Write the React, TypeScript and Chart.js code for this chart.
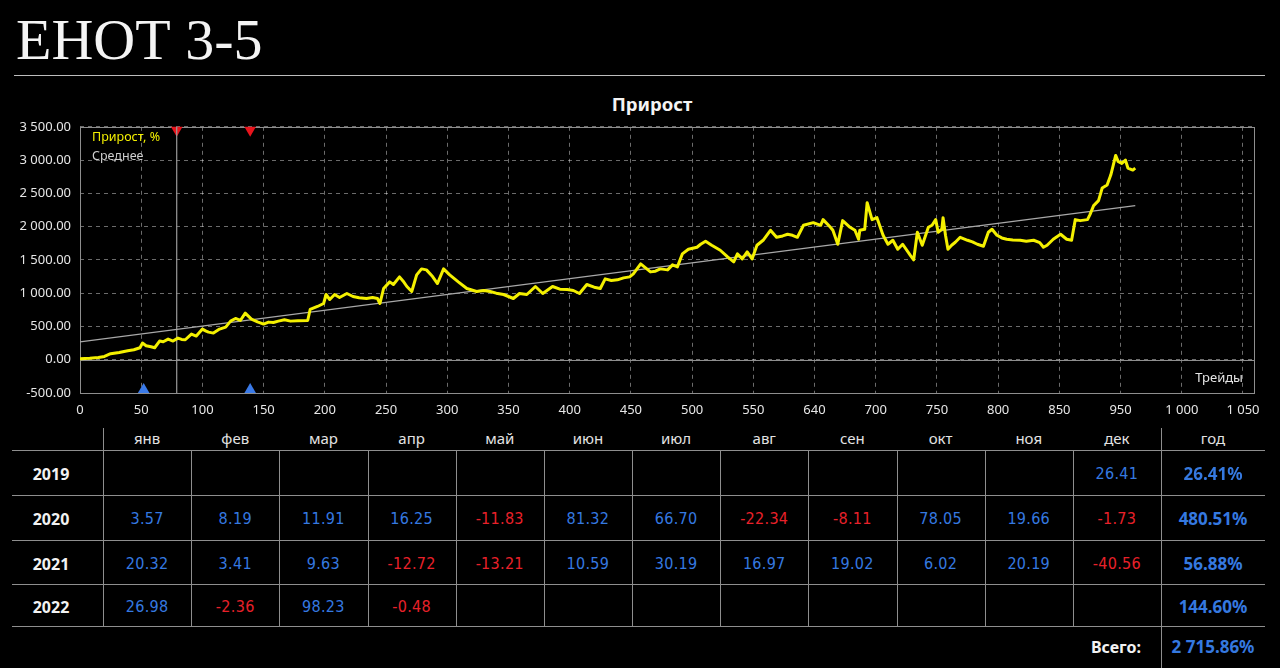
import React, { useEffect, useRef } from "react";
import { Chart, registerables } from "chart.js";

Chart.register(...registerables);

// ---- chart data ----
const tradeX = [
  0, 8, 15, 20, 25, 32, 39, 44, 49, 51, 54, 58, 61, 65, 68, 72, 76, 80, 83, 86, 91, 95, 100, 103, 105, 109, 114, 119,
  123, 127, 131, 135, 140, 145, 150, 154, 158, 162, 167, 172, 178, 186, 188, 194, 199, 201, 204, 208, 212, 218, 223,
  228, 234, 239, 243, 245, 248, 253, 256, 261, 264, 267, 271, 275, 279, 283, 288, 292, 297, 302, 309, 316, 324, 330,
  335, 340, 346, 354, 359, 365, 372, 378, 386, 392, 398, 403, 408, 414, 420, 425, 429, 434, 439, 444, 449, 452, 458,
  466, 470, 474, 480, 484, 488, 492, 497, 504, 507, 511, 516, 523, 529, 534, 537, 541, 545, 549, 553, 558, 564, 569,
  574, 578, 582, 586, 591, 599, 605, 607, 613, 615, 619, 623, 629, 633, 636, 637, 641, 643, 647, 651, 656, 660, 664,
  668, 672, 678, 681, 684, 688, 693, 696, 699, 701, 704, 705, 707, 709, 712, 715, 719, 725, 729, 733, 738, 742, 745,
  749, 753, 757, 762, 768, 773, 779, 784, 787, 790, 795, 801, 806, 810, 813, 817, 823, 825, 828, 832, 835, 839, 842,
  844, 846, 848, 851, 854, 856, 860, 862,
];
const growthPct = [
  15, 22, 35, 50, 90, 110, 135, 150, 180, 250, 210, 195, 180, 280, 270, 310, 280, 325, 305, 300, 385, 355, 460, 430,
  415, 400, 460, 490, 580, 620, 590, 700, 610, 570, 535, 565, 560, 580, 600, 580, 585, 590, 755, 800, 845, 980, 905,
  980, 935, 995, 950, 930, 920, 935, 920, 845, 1070, 1170, 1130, 1245, 1180, 1100, 1025, 1275, 1365, 1350, 1250, 1145,
  1365, 1275, 1170, 1070, 1025, 1040, 1025, 1000, 980, 920, 995, 980, 1100, 995, 1100, 1060, 1055, 1040, 995, 1130,
  1090, 1070, 1215, 1190, 1200, 1230, 1245, 1290, 1440, 1320, 1330, 1365, 1350, 1425, 1395, 1590, 1660, 1690, 1735,
  1780, 1720, 1645, 1545, 1470, 1590, 1515, 1620, 1515, 1720, 1795, 1945, 1840, 1860, 1885, 1870, 1840, 2020, 2060,
  2020, 2105, 1990, 1945, 1735, 2090, 1990, 1945, 1810, 1945, 1960, 2360, 2105, 2135, 1870, 1735, 1795, 1660, 1735,
  1575, 1500, 1915, 1720, 1990, 2020, 2105, 1915, 1960, 2135, 1870, 1660, 1720, 1765, 1840, 1795, 1770, 1735, 1705,
  1915, 1960, 1870, 1830, 1810, 1800, 1795, 1780, 1795, 1760, 1690, 1720, 1810, 1885, 1810, 1795, 2105, 2090, 2105,
  2180, 2315, 2390, 2580, 2625, 2775, 2920, 3070, 2980, 2950, 3000, 2880, 2850, 2880,
];
const meanX = [0, 862];
const meanPct = [267, 2315];
const cursorX = [79, 79];
const cursorY = [-500, 3500];
const sellMarkX = [79, 139];
const buyMarkX = [52, 139];
const xTickLabels = [
  "0", "50", "100", "150", "200", "250", "300", "350", "400", "450", "500", "550", "640", "700", "750", "800",
  "850", "950", "1 000", "1 050",
];
const yTickLabels = [
  "-500.00", "0.00", "500.00", "1 000.00", "1 500.00", "2 000.00", "2 500.00", "3 000.00", "3 500.00",
];

// ---- table data ----
const months = ["янв", "фев", "мар", "апр", "май", "июн", "июл", "авг", "сен", "окт", "ноя", "дек"];
const years = ["2019", "2020", "2021", "2022"];
const m2019: (number | null)[] = [null, null, null, null, null, null, null, null, null, null, null, 26.41];
const m2020: (number | null)[] = [3.57, 8.19, 11.91, 16.25, -11.83, 81.32, 66.7, -22.34, -8.11, 78.05, 19.66, -1.73];
const m2021: (number | null)[] = [20.32, 3.41, 9.63, -12.72, -13.21, 10.59, 30.19, 16.97, 19.02, 6.02, 20.19, -40.56];
const m2022: (number | null)[] = [26.98, -2.36, 98.23, -0.48, null, null, null, null, null, null, null, null];
const yearTotals = [26.41, 480.51, 56.88, 144.6];
const totalLabel = "Всего:";
const totalValue = "2 715.86%";

const BLUE = "#3579e0";
const RED = "#e8212a";
const GRID = "rgba(255,255,255,0.42)";
const LINEC = "#8e8e8e";

const frame = {
  id: "frame",
  beforeDatasetsDraw(chart: any) {
    const { ctx, chartArea: a, scales } = chart;
    ctx.save();
    ctx.strokeStyle = LINEC;
    ctx.lineWidth = 1;
    ctx.setLineDash([]);
    const y0 = Math.round(scales.y.getPixelForValue(0)) + 0.5;
    ctx.beginPath();
    ctx.moveTo(a.left, y0);
    ctx.lineTo(a.right, y0);
    ctx.stroke();
    ctx.strokeRect(Math.round(a.left) + 0.5, Math.round(a.top) + 0.5, Math.round(a.right - a.left), Math.round(a.bottom - a.top));
    ctx.restore();
  },
};

function ChartBlock() {
  const ref = useRef<HTMLCanvasElement>(null);
  useEffect(() => {
    const pts = (xs: number[], ys: number[]) => xs.map((x, i) => ({ x, y: ys[i] }));
    const chart = new Chart(ref.current!, {
      type: "line",
      data: {
        datasets: [
          {
            data: pts(tradeX, growthPct),
            borderColor: "#f4f000",
            borderWidth: 3,
            pointRadius: 0,
            tension: 0,
            borderJoinStyle: "round",
          },
          {
            data: pts(meanX, meanPct),
            borderColor: "#a8a8a8",
            borderWidth: 1.3,
            pointRadius: 0,
          },
          {
            data: pts(cursorX, cursorY),
            borderColor: "#9a9a9a",
            borderWidth: 1.2,
            pointRadius: 0,
          },
          {
            data: sellMarkX.map((x) => ({ x, y: 3500 })),
            showLine: false,
            pointStyle: "triangle",
            rotation: 180,
            pointRadius: 10,
            pointBackgroundColor: "#e8141c",
            pointBorderWidth: 0,
            clip: 0,
          },
          {
            data: buyMarkX.map((x) => ({ x, y: -500 })),
            showLine: false,
            pointStyle: "triangle",
            rotation: 0,
            pointRadius: 10,
            pointBackgroundColor: "#3a7ae8",
            pointBorderWidth: 0,
            clip: 0,
          },
        ] as any,
      },
      options: {
        animation: false,
        responsive: true,
        maintainAspectRatio: false,
        layout: { padding: { top: 14, right: 26, bottom: 0, left: 0 } },
        plugins: { legend: { display: false }, title: { display: false }, tooltip: { enabled: false } },
        scales: {
          x: {
            type: "linear",
            min: 0,
            max: 959,
            afterFit: (s: any) => {
              s.height = 32;
            },
            grid: { color: GRID, drawTicks: false, lineWidth: 1 },
            border: { display: false, dash: [4, 4] },
            ticks: {
              stepSize: 50,
              includeBounds: false,
              padding: 9,
              color: "#e6e6e6",
              font: { family: "'Noto Sans', sans-serif", size: 13 },
              maxRotation: 0,
              autoSkip: false,
              callback: (v: any) => (Number(v) % 50 === 0 ? xTickLabels[Math.round(Number(v) / 50)] ?? "" : ""),
            },
          },
          y: {
            min: -500,
            max: 3500,
            afterFit: (s: any) => {
              s.width = 80;
            },
            grid: { color: GRID, drawTicks: false, lineWidth: 1 },
            border: { display: false, dash: [4, 4] },
            ticks: {
              stepSize: 500,
              padding: 9,
              color: "#e6e6e6",
              font: { family: "'Noto Sans', sans-serif", size: 13 },
              callback: (v: any) => yTickLabels[Math.round((Number(v) + 500) / 500)] ?? "",
            },
          },
        },
      } as any,
      plugins: [frame],
    });
    return () => chart.destroy();
  }, []);
  return (
    <div style={{ position: "absolute", left: 0, top: 110, width: 1280, height: 315 }}>
      <canvas ref={ref} />
    </div>
  );
}

const TBL_LEFT = 103;
const COL_W = (1161 - 103) / 12;
const YEAR_L = 1161;
const YEAR_R = 1265;
const ROW_LINES = [450, 495, 540, 584, 626];
const HEADER_CY = 438;
const TOTAL_CY = 647;

function cellText(
  key: string,
  text: string,
  left: number,
  width: number,
  cy: number,
  style: React.CSSProperties
) {
  return (
    <div
      key={key}
      style={{
        position: "absolute",
        left,
        width,
        top: cy - 11,
        height: 22,
        lineHeight: "22px",
        textAlign: "center",
        whiteSpace: "nowrap",
        ...style,
      }}
    >
      {text}
    </div>
  );
}

function Table() {
  const rows = [m2019, m2020, m2021, m2022];
  const out: React.ReactNode[] = [];
  const num: React.CSSProperties = {
    fontFamily: "'DejaVu Sans Condensed', 'DejaVu Sans', sans-serif",
    fontStretch: "condensed",
    fontSize: 16,
    letterSpacing: 0.3,
  };
  const sans: React.CSSProperties = { fontFamily: "'Noto Sans', sans-serif", fontSize: 15, color: "#e3e3e3" };
  const bold: React.CSSProperties = { fontFamily: "'Noto Sans', sans-serif", fontSize: 16, fontWeight: 700 };
  months.forEach((m, i) => out.push(cellText("h" + i, m, TBL_LEFT + i * COL_W, COL_W, HEADER_CY, sans)));
  out.push(cellText("hy", "год", YEAR_L, YEAR_R - YEAR_L, HEADER_CY, sans));
  rows.forEach((r, ri) => {
    const cy = (ROW_LINES[ri] + ROW_LINES[ri + 1]) / 2 + 1.5;
    out.push(cellText("y" + ri, years[ri], 14, 74, cy, { ...bold, color: "#f2f2f2" }));
    r.forEach((v, ci) => {
      if (v === null) return;
      out.push(
        cellText("c" + ri + "_" + ci, v.toFixed(2), TBL_LEFT + ci * COL_W, COL_W, cy, {
          ...num,
          color: v < 0 ? RED : BLUE,
        })
      );
    });
    out.push(
      cellText("t" + ri, yearTotals[ri].toFixed(2) + "%", YEAR_L, YEAR_R - YEAR_L, cy, {
        ...bold,
        fontSize: 17,
        color: BLUE,
      })
    );
  });
  out.push(
    <div
      key="tl"
      style={{
        position: "absolute",
        right: 1280 - 1141,
        top: TOTAL_CY - 11,
        height: 22,
        lineHeight: "22px",
        ...bold,
        color: "#f2f2f2",
      }}
    >
      {totalLabel}
    </div>
  );
  out.push(cellText("tv", totalValue, YEAR_L, YEAR_R - YEAR_L, TOTAL_CY, { ...bold, fontSize: 17, color: BLUE }));
  // lines
  ROW_LINES.forEach((y, i) =>
    out.push(
      <div key={"hl" + i} style={{ position: "absolute", left: 12, width: YEAR_R - 12, top: y, height: 1, background: LINEC }} />
    )
  );
  for (let i = 0; i <= 12; i++) {
    const x = Math.round(TBL_LEFT + i * COL_W);
    const top = i === 0 || i === 12 ? 428 : ROW_LINES[0];
    const bottom = i === 12 ? 668 : ROW_LINES[4];
    out.push(
      <div key={"vl" + i} style={{ position: "absolute", left: x, top, width: 1, height: bottom - top, background: LINEC }} />
    );
  }
  return <>{out}</>;
}

export default function App() {
  useEffect(() => {
    document.body.style.margin = "0";
    document.body.style.background = "#000";
  }, []);
  return (
    <div
      style={{
        position: "fixed",
        left: 0,
        top: 0,
        width: 1280,
        height: 668,
        background: "#000",
        overflow: "hidden",
        color: "#fff",
        fontFamily: "'Noto Sans', sans-serif",
      }}
    >
      <div
        style={{
          position: "absolute",
          left: 16,
          top: 11,
          fontFamily: "'Liberation Serif', serif",
          fontSize: 58,
          lineHeight: 1,
          color: "#f4f4f4",
          whiteSpace: "nowrap",
        }}
      >
        ЕНОТ 3-5
      </div>
      <div style={{ position: "absolute", left: 14, top: 75, width: 1251, height: 1, background: "#bdbdbd" }} />
      <div
        style={{
          position: "absolute",
          left: 652,
          top: 93,
          transform: "translateX(-50%)",
          fontSize: 18.5,
          fontWeight: 700,
          lineHeight: "22px",
          color: "#f4f4f4",
          whiteSpace: "nowrap",
        }}
      >
        Прирост
      </div>
      <ChartBlock />
      <div style={{ position: "absolute", left: 92, top: 129, fontSize: 12.5, lineHeight: "16px", color: "#f4f000" }}>
        Прирост, %
      </div>
      <div style={{ position: "absolute", left: 92, top: 148, fontSize: 12.5, lineHeight: "16px", color: "#cfcfcf" }}>
        Среднее
      </div>
      <div
        style={{ position: "absolute", right: 1280 - 1243, top: 369, fontSize: 13, lineHeight: "16px", color: "#e6e6e6" }}
      >
        Трейды
      </div>
      <Table />
    </div>
  );
}
